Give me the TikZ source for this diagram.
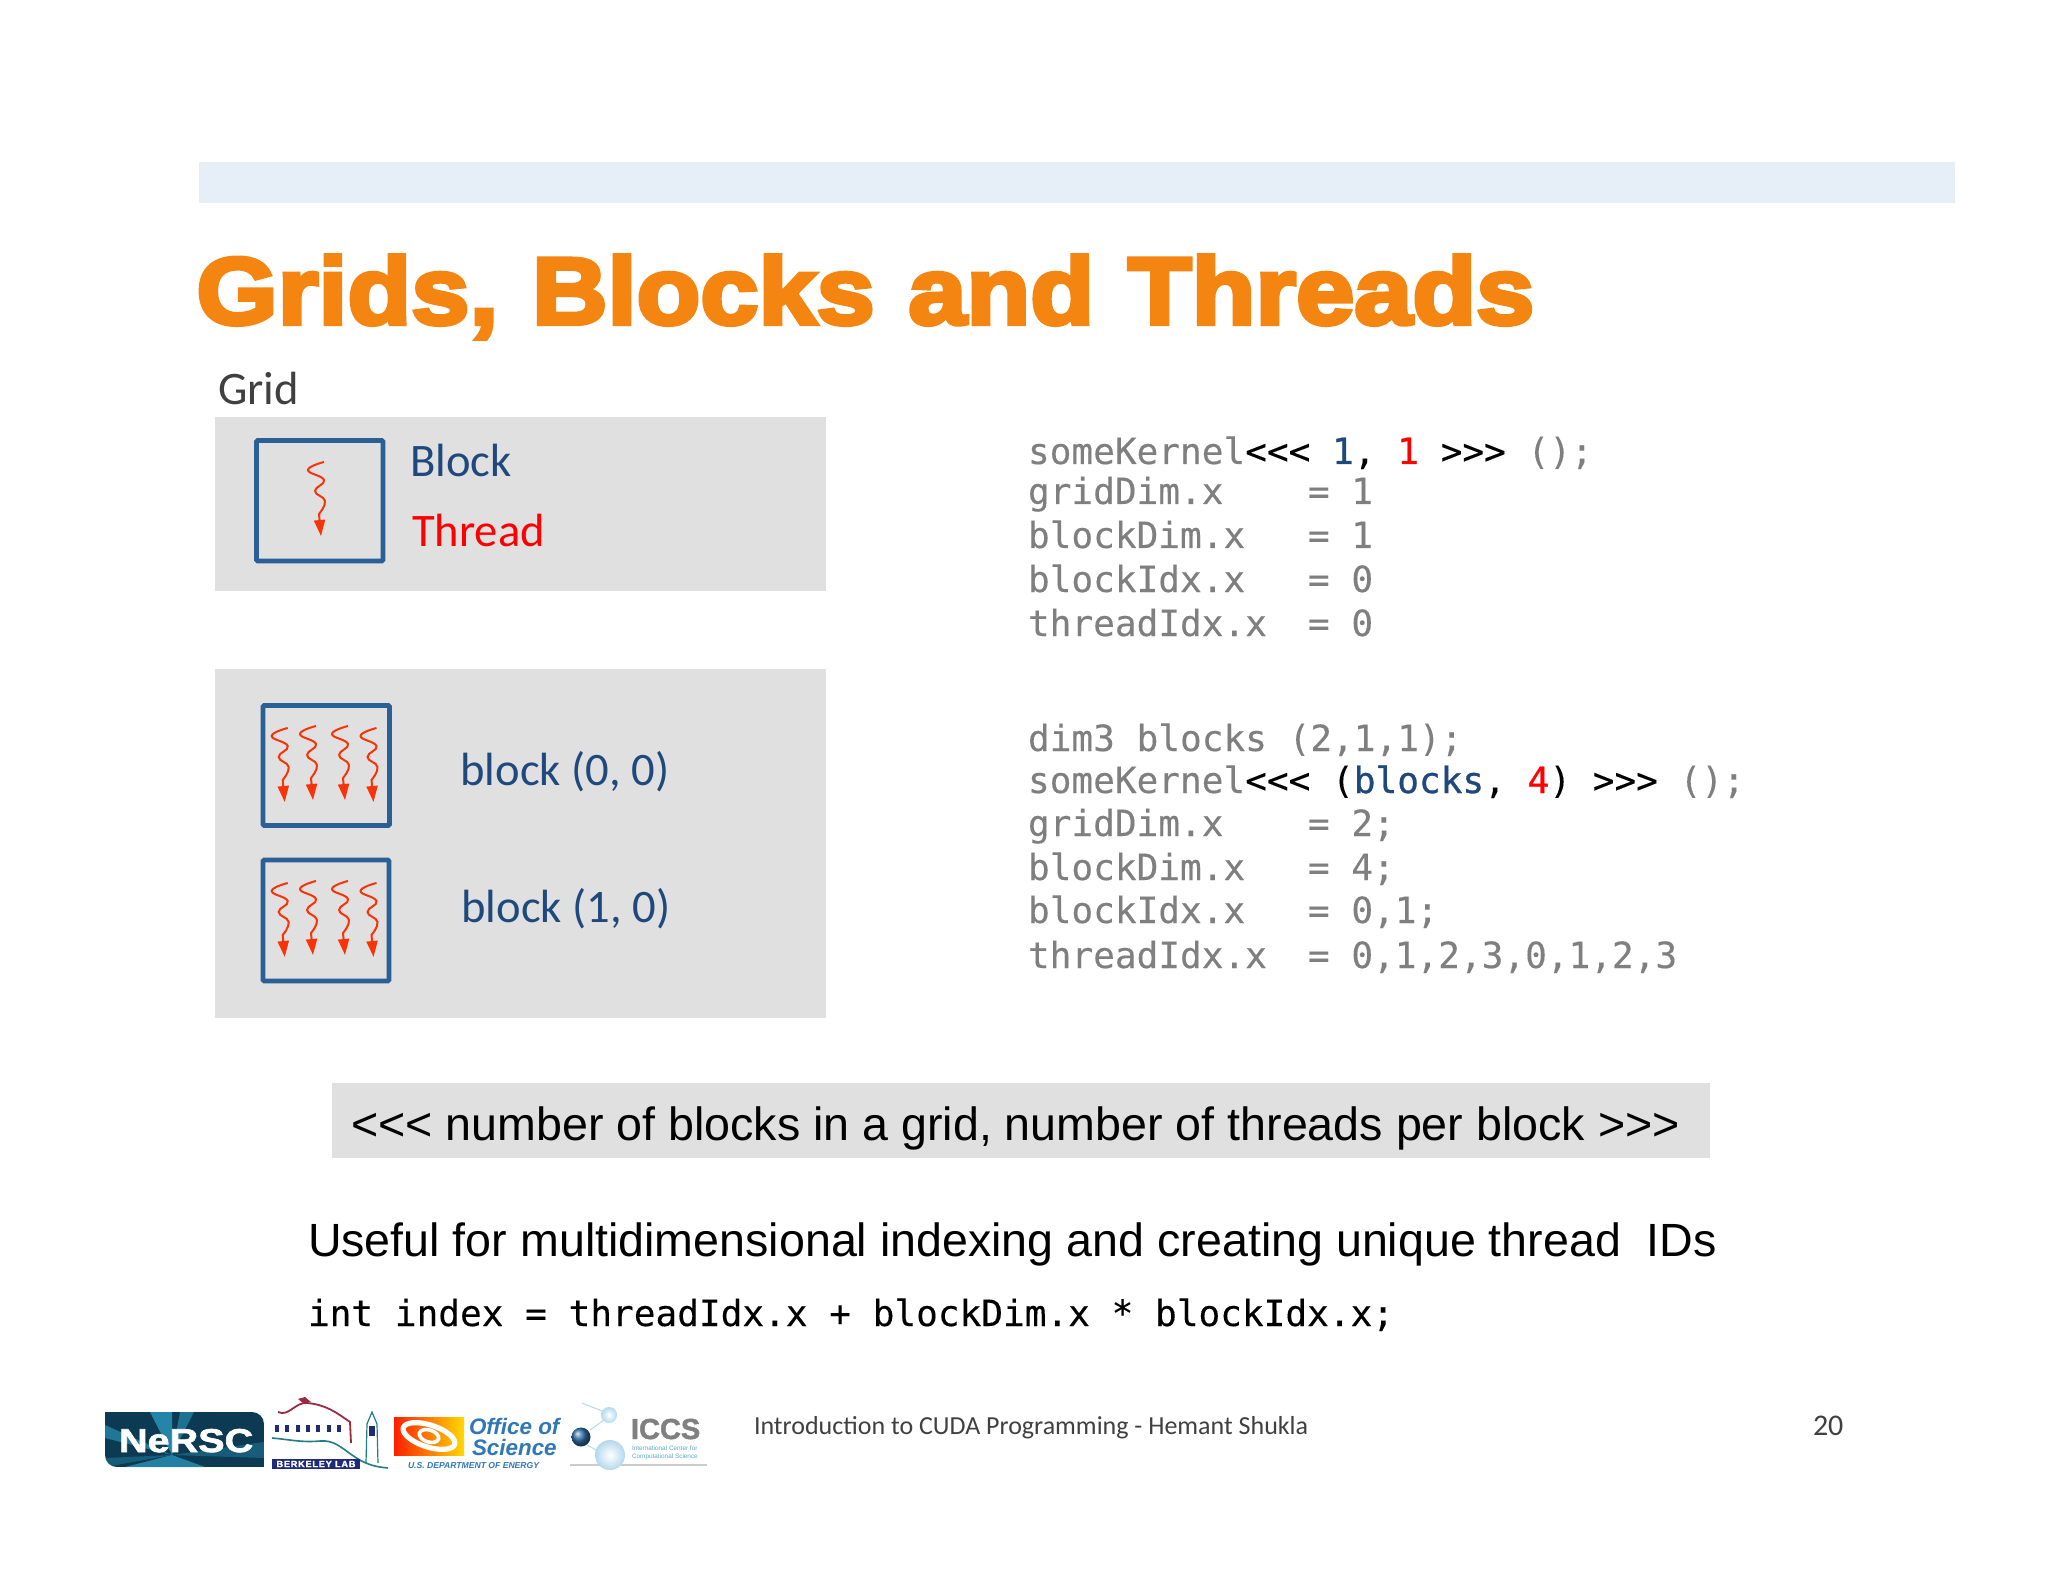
\documentclass[tikz,border=0pt]{standalone}
\usepackage{fontspec}
\usetikzlibrary{arrows.meta}
\setmainfont{Liberation Sans}
\newfontfamily\calfam{Carlito}
\newfontfamily\monofam{DejaVu Sans Mono}[FakeBold=0.2]
\newfontfamily\monomed{DejaVu Sans Mono}[FakeBold=0.8]
\newfontfamily\titlefont{Liberation Sans}[BoldFeatures={FakeBold=4.5,FakeStretch=1.10}]
\newfontfamily\logofont{Liberation Sans}[BoldFeatures={FakeBold=2,FakeStretch=1.2}]
\newfontfamily\logofontb{Liberation Sans}[BoldFeatures={FakeBold=1.5}]
\definecolor{band}{HTML}{E6EEF7}
\definecolor{panel}{HTML}{E0E0E0}
\definecolor{orangeT}{HTML}{F58511}
\definecolor{blockline}{HTML}{2A6095}
\definecolor{navy}{HTML}{1F497D}
\definecolor{threadred}{HTML}{F93208}
\definecolor{code}{HTML}{7F7F7F}
\definecolor{foot}{HTML}{404040}
\definecolor{offblue}{HTML}{2E78B7}
\definecolor{nerscbg}{HTML}{0B3A52}
\definecolor{nerscray}{HTML}{2E9FC6}
\definecolor{crimson}{HTML}{9A2A45}
\definecolor{lbteal}{HTML}{1F7F86}
\definecolor{lbnavy}{HTML}{1F2A78}
\definecolor{spherec}{HTML}{B4D8EE}
\definecolor{icteal}{HTML}{5FA9C4}
\definecolor{globe}{HTML}{2F6FA8}
\tikzset{
  x=0.5pt,y=-0.5pt,
  txt/.style={inner sep=0pt,outer sep=0pt,anchor=base west},
  panelbox/.style={fill=panel,draw=none},
  blockbox/.style={draw=blockline,line width=2.4pt,rounded corners=0.6pt},
  caltxt/.style={txt,font=\calfam\fontsize{23.3}{23.3}\selectfont},
  codetxt/.style={txt,text=code,font=\monofam\fontsize{18.04}{18}\selectfont},
  threadline/.style={draw=threadred,line width=1pt,-{Triangle[length=8pt,width=5.5pt]}},
  threadpic/.pic={\draw[threadline] plot[smooth,tension=0.8] coordinates{(0,0)(-16,8)(0,18)(-9,29)(1,39)(-5,52)} -- (-3,74);}
}
\newcommand{\hb}[1]{{\color{navy}\monomed #1}}
\newcommand{\hr}[1]{{\color{red}\monomed #1}}
\newcommand{\bk}[1]{{\color{black}#1}}
\newcommand{\nudge}{\kern-1.2pt}
\newcommand{\wgap}{\kern2.3pt\ }
\begin{document}
\begin{tikzpicture}
\useasboundingbox (0,0) rectangle (2048,1582);
\fill[white] (0,0) rectangle (2048,1582);
\fill[band] (198.5,162) rectangle (1955,203.5);
\node[txt,text=orangeT,font=\titlefont\bfseries\fontsize{47.5}{47.5}\selectfont] (title) at (196.5,324) {Grids,\wgap Blocks\wgap and\wgap Threads};

\node[caltxt,text=foot] (grid) at (218,405) {Grid};
\fill[panelbox] (215,417) rectangle (826,591);
\fill[panelbox] (215,669) rectangle (826,1018);

\draw[blockbox] (256.5,440.5) rectangle (383,561);
\path (324,462) pic{threadpic};
\node[caltxt,text=navy] (blocklab) at (410,477) {Block};
\node[caltxt,text=red] (threadlab) at (412,546) {Thread};

\draw[blockbox] (263,705.5) rectangle (389.5,825.5);
\path (287.7,728) pic{threadpic} (316,726) pic{threadpic} (348,726) pic{threadpic} (376.5,728) pic{threadpic};
\draw[blockbox] (263,860) rectangle (389,981);
\path (287.7,883) pic{threadpic} (316,881) pic{threadpic} (348,881) pic{threadpic} (376.5,883) pic{threadpic};
\node[caltxt,text=navy] (b00) at (460.5,785) {block (0, 0)};
\node[caltxt,text=navy] (b10) at (461.5,922) {block (1, 0)};

\node[codetxt] (c1) at (1028,464) {someKernel\bk{<{}<{}<} \hb{1}\bk{,} \hr{1} \bk{>{}>{}>} ();};
\node[codetxt] (c2) at (1028,504) {gridDim.x\ \ \ \nudge\ = 1};
\node[codetxt] (c3) at (1028,548) {blockDim.x\ \ \nudge\ = 1};
\node[codetxt] (c4) at (1028,592) {blockIdx.x\ \ \nudge\ = 0};
\node[codetxt] (c5) at (1028,636) {threadIdx.x\ \nudge\ = 0};
\node[codetxt] (d1) at (1028,751) {dim3 blocks (2,1,1);};
\node[codetxt] (d2) at (1028,793) {someKernel\bk{<{}<{}< (}\hb{blocks}\bk{,} \hr{4}\bk{) >{}>{}>} ();};
\node[codetxt] (d3) at (1028,836) {gridDim.x\ \ \ \nudge\ = 2;};
\node[codetxt] (d4) at (1028,880) {blockDim.x\ \ \nudge\ = 4;};
\node[codetxt] (d5) at (1028,923) {blockIdx.x\ \ \nudge\ = 0,1;};
\node[codetxt] (d6) at (1028,968) {threadIdx.x\ \nudge\ = 0,1,2,3,0,1,2,3};

\fill[panelbox] (332,1083) rectangle (1710,1158);
\node[txt,font=\fontsize{23.3}{24}\selectfont] (bar) at (351,1140) {<{}<{}< number of blocks in a grid, number of threads per block >{}>{}>};
\node[txt,font=\fontsize{23.3}{24}\selectfont] (useful) at (308,1256) {Useful for multidimensional indexing and creating unique thread\ \ IDs};
\node[txt,font=\monofam\fontsize{18.04}{18}\selectfont] (idx) at (308,1326) {int index = threadIdx.x + blockDim.x * blockIdx.x;};

\node[txt,text=foot,font=\calfam\fontsize{13}{13}\selectfont] (foot) at (754,1434) {Introduction to CUDA Programming - Hemant Shukla};
\node[txt,text=foot,font=\calfam\fontsize{15}{15}\selectfont] (pg) at (1813,1435) {20};

% NERSC logo
\begin{scope}
\path[clip] (105,1412) -- (252,1412) to[out=0,in=90] (264,1424) -- (264,1467) -- (117,1467) to[out=180,in=-90] (105,1455) -- cycle;
\fill[nerscbg] (105,1412) rectangle (264,1467);
\fill[nerscray,opacity=.75] (172,1455) -- (150,1412) -- (172,1412) -- cycle;
\fill[nerscray,opacity=.55] (172,1455) -- (180,1412) -- (194,1412) -- cycle;
\fill[nerscray,opacity=.6] (172,1455) -- (105,1425) -- (105,1438) -- cycle;
\fill[nerscray,opacity=.7] (172,1455) -- (125,1467) -- (205,1467) -- cycle;
\fill[nerscray,opacity=.35] (172,1455) -- (264,1442) -- (264,1458) -- cycle;
\fill[nerscray,opacity=.35] (172,1455) -- (105,1458) -- (105,1467) -- cycle;
\end{scope}
\node[txt,text=white,font=\logofont\bfseries\fontsize{16.5}{17}\selectfont] (nersc) at (119,1452) {NeRSC};
% Berkeley Lab logo
\draw[draw=crimson,line width=0.9pt] (278,1412) to[out=-25,in=175] (307,1403) to[out=-5,in=145] (350,1422) -- (351,1443);
\fill[crimson] (298,1399) -- (305,1397) -- (311,1402) -- (303,1403) -- cycle;
\foreach \i in {0,...,6} \fill[lbnavy] (275+\i*10.3,1425) rectangle ++(4,7);
\draw[draw=lbteal,line width=0.8pt] (272,1438) to[out=-5,in=185] (320,1441) to[out=5,in=145] (352,1455) to[out=-35,in=175] (388,1468);
\draw[draw=lbteal,line width=0.6pt] (366,1463) -- (367,1424) -- (372,1412) -- (377,1424) -- (378,1463);
\fill[lbnavy] (369,1426) rectangle (375,1436);
\fill[lbnavy] (272,1459) rectangle (360,1469);
\node[text=white,inner sep=0pt,font=\logofontb\bfseries\fontsize{4.6}{5}\selectfont] (bl) at (316,1464) {\addfontfeature{LetterSpace=8}BERKELEY LAB};
% Office of Science
\shade[left color=red!75!orange,right color=yellow!70!orange] (394,1417) rectangle (464,1455);
\draw[white,line width=2.6pt] (429,1436) ellipse[x radius=27,y radius=11,rotate=-18];
\draw[white,line width=1.8pt] (429,1436) ellipse[x radius=10,y radius=6,rotate=-18];
\node[txt,text=offblue,font=\bfseries\itshape\fontsize{11.2}{11}\selectfont] (off) at (469,1434) {Office of};
\node[txt,text=offblue,font=\bfseries\itshape\fontsize{11.2}{11}\selectfont] (sci) at (472,1455) {Science};
\node[txt,text=offblue,font=\bfseries\itshape\fontsize{4.3}{5}\selectfont] (doe) at (408,1468) {U.S. DEPARTMENT OF ENERGY};
% ICCS
\draw[gray!40,line width=.6pt] (570,1465) -- (707,1465);
\draw[spherec,line width=.5pt] (582,1403) -- (607,1413) (590,1430) -- (604,1420) (587,1445) -- (600,1452);
\shade[ball color=globe] (581,1437) circle (9.5);
\shade[inner color=white,outer color=spherec] (609,1415) circle (8);
\shade[inner color=white,outer color=spherec] (610,1455) circle (15);
\node[txt,text=gray,font=\logofontb\bfseries\fontsize{14.5}{14.5}\selectfont] (iccs) at (631,1439) {ICCS};
\node[txt,text=icteal,font=\fontsize{3.2}{3.2}\selectfont] (ic1) at (632,1450) {International Center for};
\node[txt,text=icteal,font=\fontsize{3.2}{3.2}\selectfont] (ic2) at (632,1458) {Computational Science};
\end{tikzpicture}
\end{document}
